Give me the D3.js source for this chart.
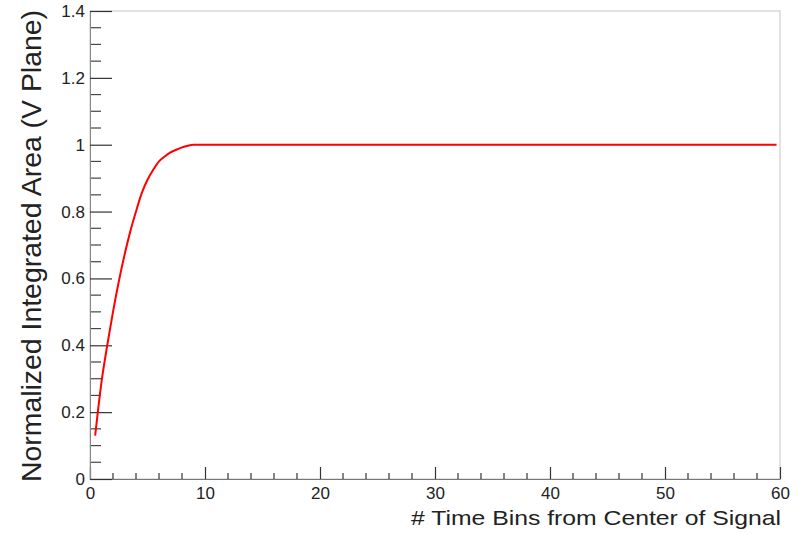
<!DOCTYPE html>
<html><head><meta charset="utf-8">
<script src="https://cdn.jsdelivr.net/npm/d3@7"></script>
<style>body{margin:0;background:#fff}svg{display:block}text{font-family:"Liberation Sans",Arial,sans-serif}</style>
</head><body>
<svg id="c" width="802" height="538"></svg>
<script>
const xValues = [0.45, 1, 1.5, 2, 2.5, 3, 3.5, 4, 4.5, 5, 5.5, 6, 6.5, 7, 7.5, 8, 8.5, 9, 59.7];
const yValues = [0.13, 0.29, 0.40, 0.50, 0.59, 0.67, 0.74, 0.80, 0.855, 0.895, 0.925, 0.95, 0.965, 0.977, 0.985, 0.992, 0.997, 1.0, 1.0];
const xTicks = [0, 10, 20, 30, 40, 50, 60];
const yTicks = [0, 0.2, 0.4, 0.6, 0.8, 1, 1.2, 1.4];
const xTitle = "# Time Bins from Center of Signal";
const yTitle = "Normalized Integrated Area (V Plane)";

const L = 90, R = 780, T = 11, B = 479;
const svg = d3.select("#c");
const x = d3.scaleLinear().domain([0, 60]).range([L, R]);
const y = d3.scaleLinear().domain([0, 1.4]).range([B, T]);

// frame
svg.append("rect").attr("x", L).attr("y", T).attr("width", R - L).attr("height", B - T)
  .attr("fill", "none").attr("stroke", "#cfcfcf").attr("stroke-width", 1.2);

// x minor ticks
const xMinor = d3.range(0, 60.001, 2).filter(v => v % 10 !== 0);
svg.append("g").selectAll("line").data(xMinor).join("line")
  .attr("x1", d => x(d)).attr("x2", d => x(d)).attr("y1", B).attr("y2", B - 6)
  .attr("stroke", "#333").attr("stroke-width", 1.2);
// y minor ticks
const yMinor = d3.range(0, 1.4001, 0.05).filter(v => Math.abs(v / 0.2 - Math.round(v / 0.2)) > 1e-6);
svg.append("g").selectAll("line").data(yMinor).join("line")
  .attr("x1", L).attr("x2", L + 11).attr("y1", d => y(d)).attr("y2", d => y(d))
  .attr("stroke", "#444").attr("stroke-width", 1.2);

// x axis
const gx = svg.append("g").attr("transform", `translate(0,${B})`)
  .call(d3.axisBottom(x).tickValues(xTicks).tickSizeInner(-12).tickSizeOuter(0).tickPadding(8).tickFormat(d3.format("d")));
gx.select(".domain").attr("stroke", "#777");
gx.selectAll(".tick line").attr("stroke", "#333").attr("stroke-width", 1.2);
gx.selectAll(".tick text").attr("font-size", 17).attr("fill", "#222");

// y axis
const gy = svg.append("g").attr("transform", `translate(${L},0)`)
  .call(d3.axisLeft(y).tickValues(yTicks).tickSizeInner(-22).tickSizeOuter(0).tickPadding(5).tickFormat(d => d3.format("")(+d.toFixed(1))));
gy.select(".domain").attr("stroke", "#888");
gy.selectAll(".tick line").attr("stroke", "#333").attr("stroke-width", 1.2);
gy.selectAll(".tick text").attr("font-size", 17).attr("fill", "#222");

// curve
const pts = xValues.map((v, i) => [v, yValues[i]]);
svg.append("path").datum(pts)
  .attr("d", d3.line().x(d => x(d[0])).y(d => y(d[1])).curve(d3.curveMonotoneX))
  .attr("fill", "none").attr("stroke", "#ff0000").attr("stroke-width", 2);

// titles
svg.append("text").attr("x", 781).attr("y", 525).attr("text-anchor", "end")
  .attr("font-size", 21).attr("fill", "#222")
  .attr("textLength", 370).attr("lengthAdjust", "spacingAndGlyphs").text(xTitle);
svg.append("text").attr("transform", `translate(41,10) rotate(-90)`).attr("text-anchor", "end")
  .attr("font-size", 28).attr("fill", "#222")
  .attr("textLength", 472).attr("lengthAdjust", "spacingAndGlyphs").text(yTitle);
</script>
</body></html>
